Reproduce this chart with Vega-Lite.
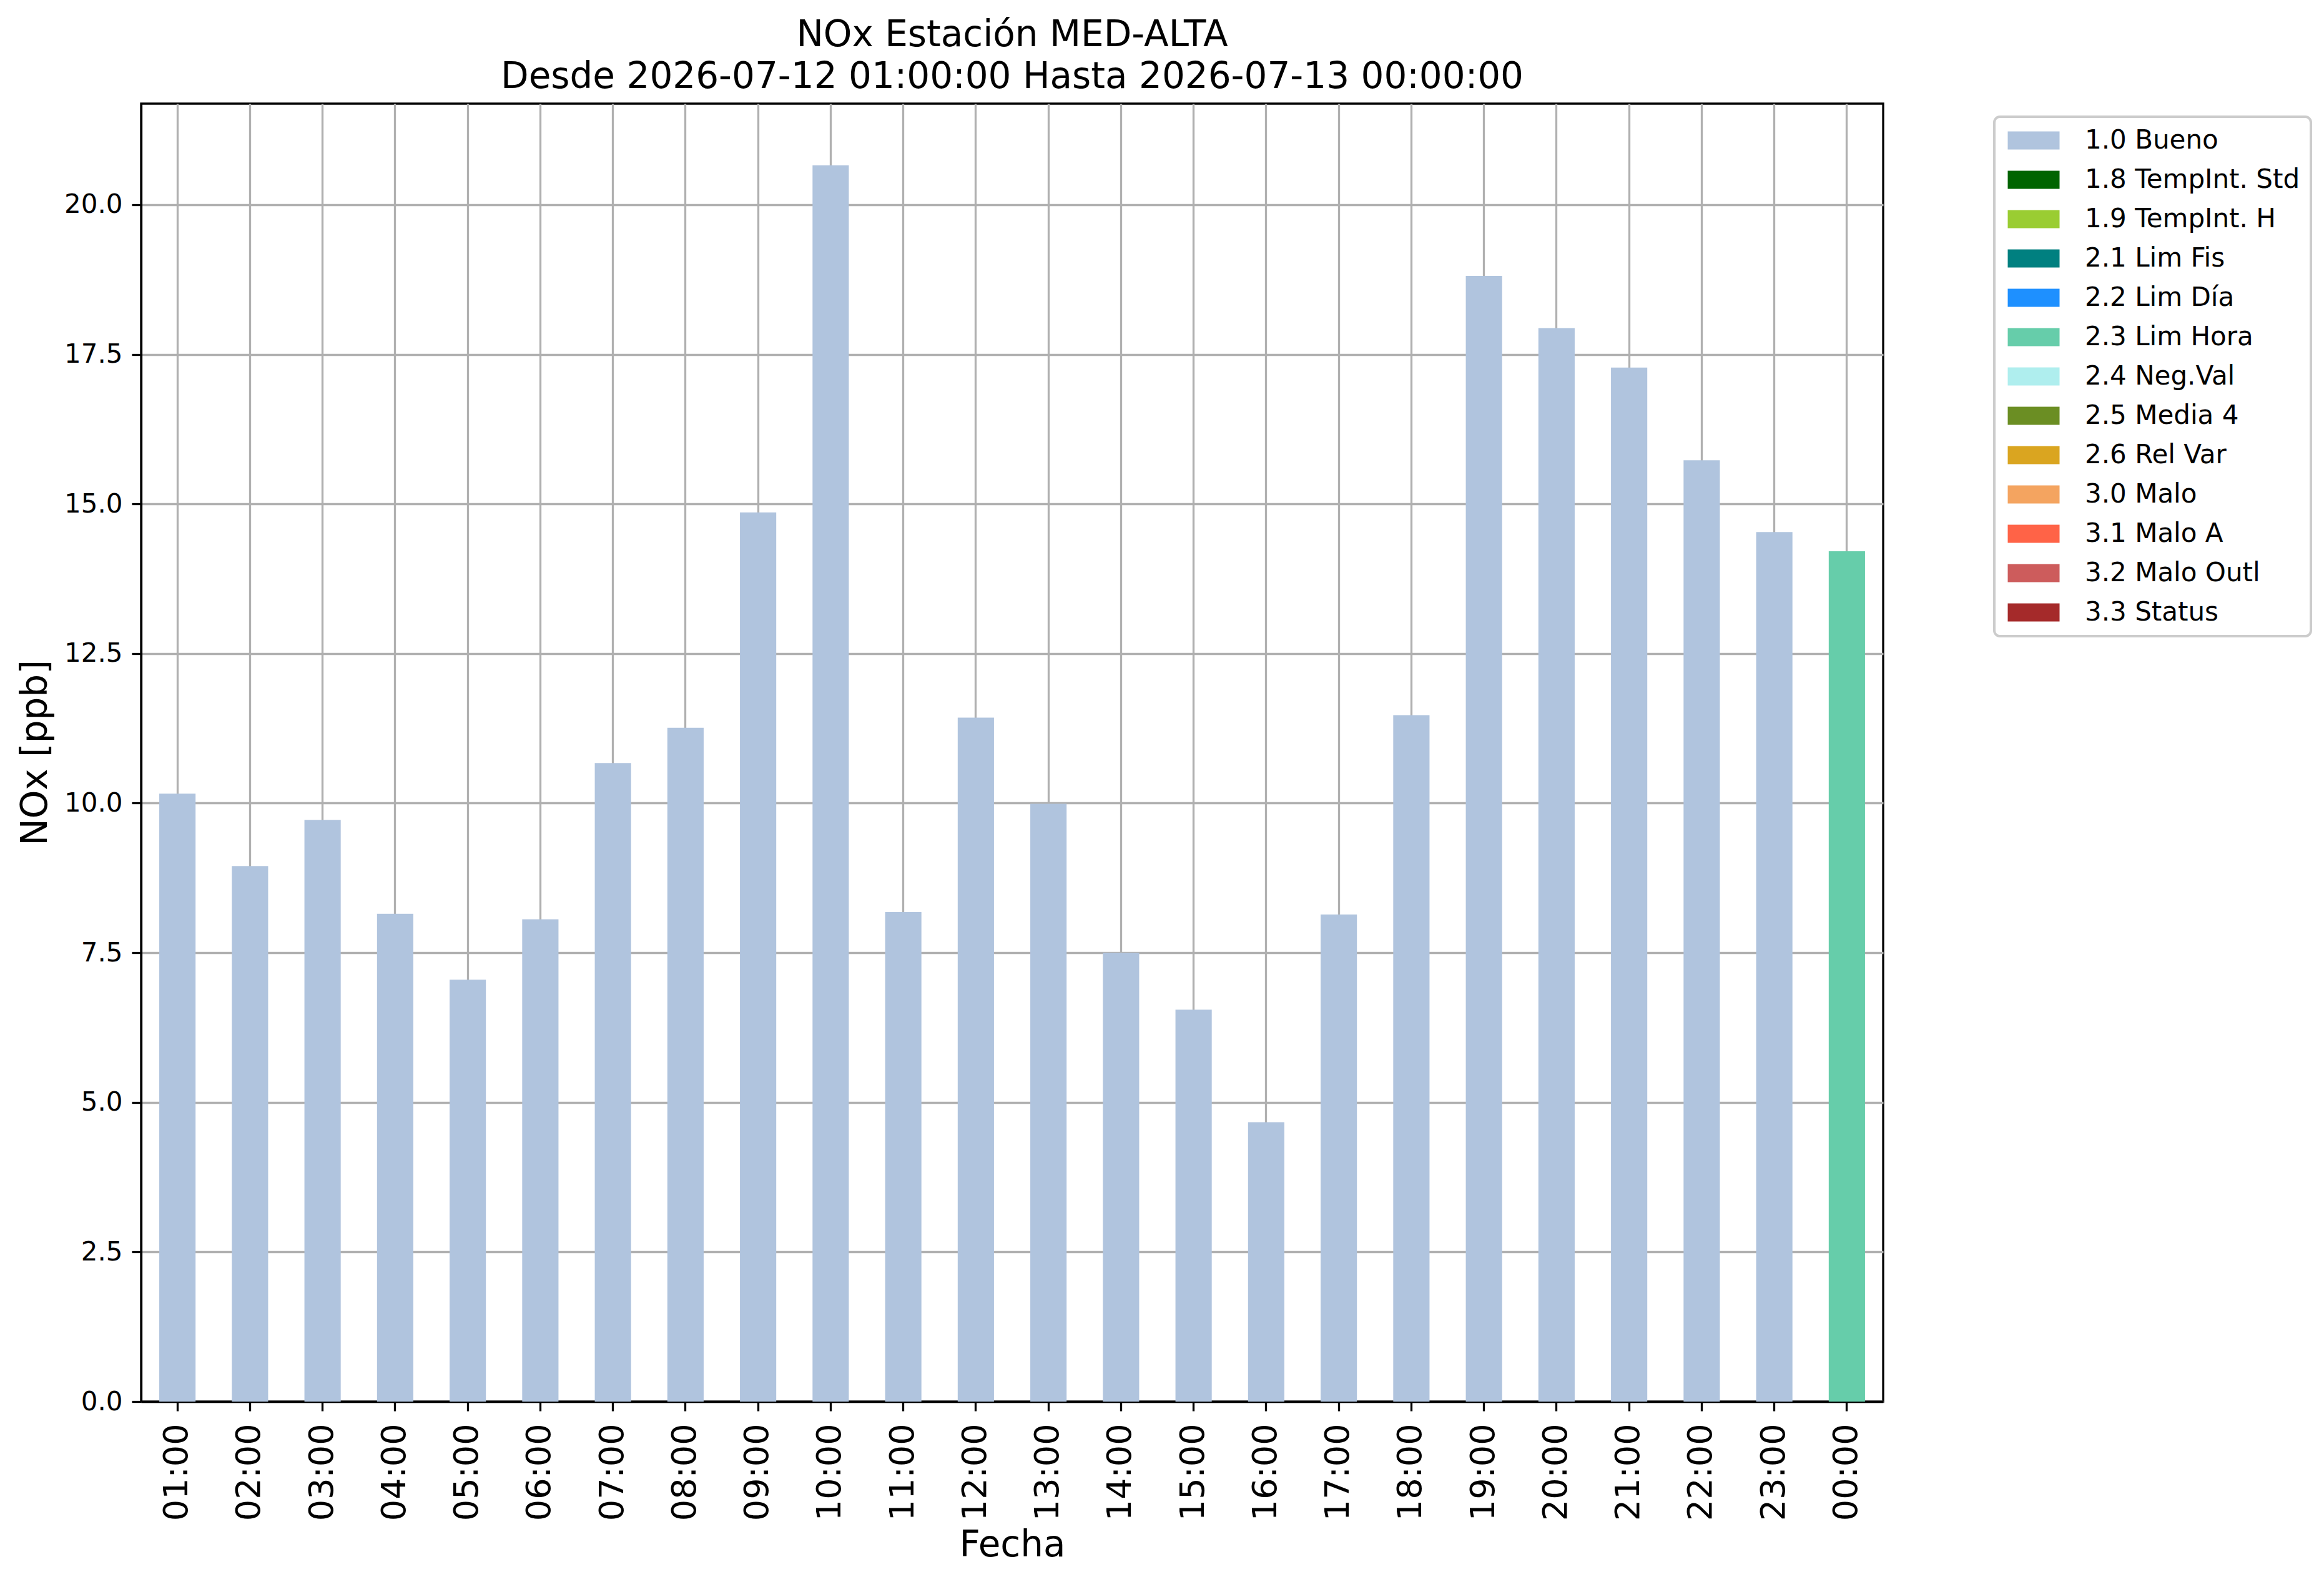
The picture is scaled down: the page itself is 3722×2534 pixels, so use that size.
{
  "$schema": "https://vega.github.io/schema/vega-lite/v6.json",
  "autosize": {"type": "none"},
  "width": 2790,
  "height": 2079,
  "padding": {"left": 226, "top": 166, "right": 706, "bottom": 289},
  "background": "white",
  "title": {
    "text": ["NOx Estación MED-ALTA", "Desde 2026-07-12 01:00:00 Hasta 2026-07-13 00:00:00"],
    "font": "DejaVu Sans",
    "fontSize": 58,
    "fontWeight": "normal",
    "lineHeight": 67,
    "anchor": "middle",
    "color": "black",
    "offset": 13
  },
  "data": {
    "values": [
      {"hora": "01:00", "nox": 10.16, "flag": "1.0 Bueno"},
      {"hora": "02:00", "nox": 8.95, "flag": "1.0 Bueno"},
      {"hora": "03:00", "nox": 9.72, "flag": "1.0 Bueno"},
      {"hora": "04:00", "nox": 8.15, "flag": "1.0 Bueno"},
      {"hora": "05:00", "nox": 7.05, "flag": "1.0 Bueno"},
      {"hora": "06:00", "nox": 8.06, "flag": "1.0 Bueno"},
      {"hora": "07:00", "nox": 10.67, "flag": "1.0 Bueno"},
      {"hora": "08:00", "nox": 11.26, "flag": "1.0 Bueno"},
      {"hora": "09:00", "nox": 14.86, "flag": "1.0 Bueno"},
      {"hora": "10:00", "nox": 20.66, "flag": "1.0 Bueno"},
      {"hora": "11:00", "nox": 8.18, "flag": "1.0 Bueno"},
      {"hora": "12:00", "nox": 11.43, "flag": "1.0 Bueno"},
      {"hora": "13:00", "nox": 9.99, "flag": "1.0 Bueno"},
      {"hora": "14:00", "nox": 7.5, "flag": "1.0 Bueno"},
      {"hora": "15:00", "nox": 6.55, "flag": "1.0 Bueno"},
      {"hora": "16:00", "nox": 4.67, "flag": "1.0 Bueno"},
      {"hora": "17:00", "nox": 8.14, "flag": "1.0 Bueno"},
      {"hora": "18:00", "nox": 11.47, "flag": "1.0 Bueno"},
      {"hora": "19:00", "nox": 18.81, "flag": "1.0 Bueno"},
      {"hora": "20:00", "nox": 17.94, "flag": "1.0 Bueno"},
      {"hora": "21:00", "nox": 17.28, "flag": "1.0 Bueno"},
      {"hora": "22:00", "nox": 15.73, "flag": "1.0 Bueno"},
      {"hora": "23:00", "nox": 14.53, "flag": "1.0 Bueno"},
      {"hora": "00:00", "nox": 14.21, "flag": "2.3 Lim Hora"}
    ]
  },
  "mark": {"type": "bar"},
  "encoding": {
    "x": {
      "field": "hora",
      "type": "nominal",
      "sort": null,
      "scale": {"paddingInner": 0.5, "paddingOuter": 0.25},
      "axis": {
        "title": "Fecha",
        "titleX": 1395,
        "titleY": 247,
        "titleBaseline": "alphabetic",
        "labelAngle": 270,
        "labelFontSize": 54,
        "labelPadding": 20,
        "titleFontSize": 58,
        "grid": true
      }
    },
    "y": {
      "field": "nox",
      "type": "quantitative",
      "scale": {"domain": [0, 21.69], "nice": false, "zero": true},
      "axis": {
        "title": "NOx [ppb]",
        "titleX": -152,
        "titleY": 1039.5,
        "titleBaseline": "alphabetic",
        "titleAngle": 270,
        "titleAlign": "center",
        "values": [0, 2.5, 5, 7.5, 10, 12.5, 15, 17.5, 20],
        "format": ".1f",
        "labelFontSize": 42,
        "labelPadding": 15,
        "titleFontSize": 58,
        "grid": true
      }
    },
    "color": {
      "field": "flag",
      "type": "nominal",
      "scale": {
        "domain": ["1.0 Bueno", "1.8 TempInt. Std", "1.9 TempInt. H", "2.1 Lim Fis", "2.2 Lim Día", "2.3 Lim Hora", "2.4 Neg.Val", "2.5 Media 4", "2.6 Rel Var", "3.0 Malo", "3.1 Malo A", "3.2 Malo Outl", "3.3 Status"],
        "range": ["#b0c4de", "#006400", "#9acd32", "#008080", "#1e90ff", "#66cdaa", "#afeeee", "#6b8e23", "#daa520", "#f4a460", "#ff6347", "#cd5c5c", "#a52a2a"]
      },
      "legend": {
        "title": null,
        "orient": "none",
        "legendX": 2968,
        "legendY": 21,
        "padding": 17,
        "symbolType": "M-1,-0.879H4.03V0.879H-1Z",
        "symbolSize": 1089,
        "symbolStrokeWidth": 0,
        "symbolOpacity": 1,
        "labelFontSize": 42,
        "labelOffset": 86,
        "labelLimit": 0,
        "rowPadding": 21,
        "strokeColor": "#cccccc",
        "cornerRadius": 9,
        "fillColor": "white",
        "encode": {
          "legend": {"update": {"strokeWidth": {"value": 4}}}
        }
      }
    }
  },
  "config": {
    "font": "DejaVu Sans",
    "view": {"stroke": "black", "strokeWidth": 3.3},
    "axis": {
      "zindex": 1,
      "labelFont": "DejaVu Sans",
      "titleFont": "DejaVu Sans",
      "labelColor": "black",
      "titleColor": "black",
      "titleFontWeight": "normal",
      "domainColor": "black",
      "domainWidth": 3.3,
      "tickColor": "black",
      "tickWidth": 3.3,
      "tickSize": 15,
      "gridColor": "#b0b0b0",
      "gridWidth": 3.3,
      "gridOpacity": 1
    },
    "legend": {
      "labelFont": "DejaVu Sans",
      "labelColor": "black"
    }
  }
}
